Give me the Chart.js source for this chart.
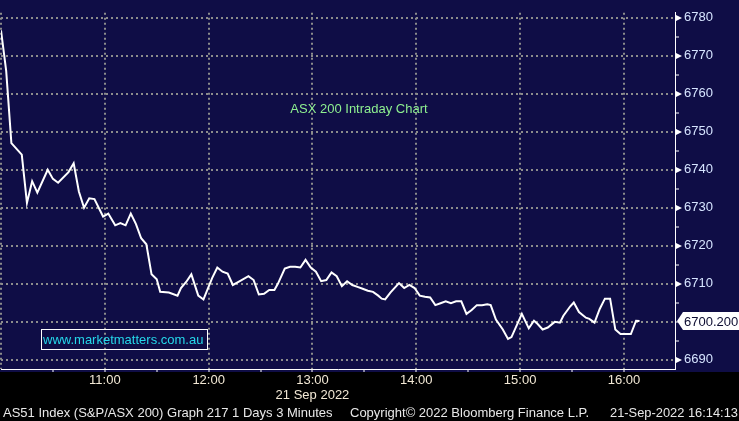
<!DOCTYPE html>
<html>
<head>
<meta charset="utf-8">
<script src="https://cdn.jsdelivr.net/npm/chart.js@4"></script>
<style>
  html, body { margin: 0; padding: 0; background: #000; }
  #wrap { width: 739px; height: 421px; position: relative; }
</style>
</head>
<body>
<div id="wrap"><canvas id="MyChart" width="739" height="421"></canvas></div>
<script>
// minutes after 10:00 and the index level
let minutes = [0, 3, 6, 12, 15, 18, 21, 27, 30, 33, 39, 42, 45, 48, 51, 54, 59, 62, 66, 69,
  72, 75, 78, 81, 84, 87, 90, 92, 97, 102, 104, 107, 110, 114, 117, 122, 125, 128, 131, 134,
  138, 143, 146, 149, 152, 155, 158, 160, 164, 167, 170, 173, 176, 179, 182, 185, 188, 191, 194, 197,
  200, 203, 206, 209, 212, 215, 218, 220, 222, 225, 230, 233, 236, 239, 242, 245, 248, 251, 254, 257,
  260, 263, 266, 269, 272, 275, 278, 281, 283, 286, 290, 293, 295, 301, 305, 308, 310, 313, 316, 320,
  323, 325, 329, 331, 334, 338, 340, 343, 346, 349, 352, 355, 358, 361, 364, 367, 369];
let levels = [6776.7, 6766, 6747, 6744, 6731.3, 6737, 6734, 6740, 6737.6, 6736.6, 6739.4, 6741.7, 6734.3, 6730, 6732.5, 6732.3, 6727.7, 6728.5, 6725.4, 6726,
  6725.4, 6728.5, 6725.7, 6722, 6720.4, 6712.5, 6711.2, 6707.9, 6707.7, 6706.9, 6708.9, 6710.5, 6712.5, 6706.9, 6705.9, 6711.5, 6714.3, 6713.2, 6712.7, 6709.7,
  6710.7, 6712, 6711, 6707.2, 6707.4, 6708.4, 6708.4, 6710, 6714, 6714.5, 6714.5, 6714.3, 6716.3, 6714.3, 6713.2, 6710.7, 6711, 6713, 6712, 6709.4,
  6710.7, 6709.7, 6709.2, 6708.7, 6708.2, 6707.9, 6706.9, 6706.1, 6705.9, 6707.7, 6710.2, 6708.9, 6709.7, 6708.9, 6706.9, 6706.6, 6706.4, 6704.4, 6704.9, 6705.4,
  6704.9, 6705.4, 6705.4, 6702.1, 6703.1, 6704.4, 6704.4, 6704.6, 6704.4, 6700.6, 6698, 6695.5, 6696, 6702.1, 6698.3, 6700.3, 6699.5, 6698, 6698.5, 6700,
  6699.8, 6701.6, 6704.1, 6705.1, 6702.6, 6701.1, 6700.8, 6699.8, 6703.4, 6706.1, 6706.1, 6698, 6696.8, 6696.8, 6696.8, 6700.3, 6700.2];

// x ticks every half hour, labels on the hour
let xTicks = [0, 30, 60, 90, 120, 150, 180, 210, 240, 270, 300, 330, 360];
let hourLabels = ['10:00', '11:00', '12:00', '13:00', '14:00', '15:00', '16:00'];
let yLabels = [6690, 6700, 6710, 6720, 6730, 6740, 6750, 6760, 6770, 6780];
let lastPrice = 6700.2;

let chartTitle = 'ASX 200 Intraday Chart';
let siteText = 'www.marketmatters.com.au';
let dateText = '21 Sep 2022';
let footer = ['AS51 Index (S&P/ASX 200) Graph 217 1 Days 3 Minutes', 'Copyright\u00a9 2022 Bloomberg Finance L.P.', '21-Sep-2022 16:14:13'];

const FONT = "'Liberation Sans', Arial, sans-serif";
const NAVY = 'rgb(15,13,70)';
const GRID = '#8c8c8c';

var points = minutes.map(function (m, i) { return { x: m, y: levels[i] }; });

// background + all the extra Bloomberg text
const bloombergBits = {
  id: 'bloombergBits',
  beforeDraw(chart) {
    const c = chart.ctx;
    c.save();
    c.fillStyle = '#000';
    c.fillRect(0, 0, chart.width, chart.height);
    c.fillStyle = NAVY;
    c.fillRect(0, 0, chart.width, chart.chartArea.bottom + 3);
    c.restore();
  },
  afterDraw(chart) {
    const c = chart.ctx;
    const xs = chart.scales.x, ys = chart.scales.y;
    c.save();

    // title
    c.font = '13px ' + FONT;
    c.fillStyle = '#8ef090';
    c.textAlign = 'center';
    c.textBaseline = 'middle';
    c.fillText(chartTitle, 359, 109);

    // site box
    c.strokeStyle = '#fff';
    c.lineWidth = 1;
    c.strokeRect(41.5, 329.5, 166, 20);
    c.fillStyle = '#25d8ea';
    c.textAlign = 'left';
    c.fillText(siteText, 43, 340, 162);

    // triangles at the labelled y ticks
    c.fillStyle = '#fff';
    yLabels.forEach(function (v) {
      if (v === 6700) return;
      const y = Math.round(ys.getPixelForValue(v));
      c.beginPath();
      c.moveTo(xs.right + 1, y - 3);
      c.lineTo(xs.right + 7, y);
      c.lineTo(xs.right + 1, y + 3);
      c.closePath();
      c.fill();
    });

    // last price tag
    const py = Math.round(ys.getPixelForValue(lastPrice));
    const px = xs.right + 2;
    c.beginPath();
    c.moveTo(px, py);
    c.lineTo(px + 6, py - 9);
    c.lineTo(chart.width, py - 9);
    c.lineTo(chart.width, py + 9);
    c.lineTo(px + 6, py + 9);
    c.closePath();
    c.fillStyle = '#fff';
    c.fill();
    c.fillStyle = '#0b0b30';
    c.font = '13px ' + FONT;
    c.textAlign = 'left';
    c.fillText(lastPrice.toFixed(3), px + 7, py + 1);

    // date under the axis
    c.fillStyle = '#f2e8d5';
    c.textAlign = 'center';
    c.fillText(dateText, xs.getPixelForValue(180), 395);

    // footer line
    c.fillStyle = '#e8e8e8';
    c.textAlign = 'left';
    c.fillText(footer[0], 3, 413, 331);
    c.fillText(footer[1], 350, 413, 241);
    c.fillText(footer[2], 610, 413, 128);
    c.restore();
  }
};

var ctx = document.getElementById('MyChart').getContext('2d');
var chart = new Chart(ctx, {
  type: 'line',
  data: {
    datasets: [{
      data: points,
      borderColor: '#ffffff',
      borderWidth: 2,
      pointRadius: 0,
      tension: 0,
      fill: false
    }]
  },
  options: {
    responsive: false,
    animation: false,
    events: [],
    layout: { padding: 0 },
    plugins: {
      legend: { display: false },
      tooltip: { enabled: false }
    },
    scales: {
      x: {
        type: 'linear',
        min: 0,
        max: 389.5,
        afterBuildTicks: function (scale) {
          scale.ticks = xTicks.map(function (v) { return { value: v }; });
        },
        afterFit: function (scale) { scale.height = 52; },
        border: { display: true, color: '#ffffff', width: 1, dash: [2, 3] },
        grid: {
          lineWidth: 2,
          color: function (c) { return c.tick && c.tick.value % 60 === 0 ? GRID : 'rgba(0,0,0,0)'; },
          tickColor: function (c) { return c.tick && c.tick.value === 0 ? 'rgba(0,0,0,0)' : '#ffffff'; },
          tickLength: 3,
          tickWidth: 1
        },
        ticks: {
          autoSkip: false,
          maxRotation: 0,
          padding: 1,
          color: '#f2e8d5',
          font: { family: FONT, size: 13 },
          callback: function (v) {
            if (v % 60 !== 0 || v === 0) return '';
            return hourLabels[v / 60];
          }
        }
      },
      y: {
        position: 'right',
        min: 6687.6,
        max: 6781.3,
        afterFit: function (scale) { scale.width = 64; },
        border: { display: true, color: '#ffffff', width: 1, dash: [2, 3] },
        grid: {
          lineWidth: 2,
          color: function (c) { return c.tick && Math.round(c.tick.value) % 10 === 0 ? GRID : 'rgba(0,0,0,0)'; },
          tickColor: '#ffffff',
          tickLength: 4,
          tickWidth: 1
        },
        ticks: {
          stepSize: 5,
          includeBounds: false,
          autoSkip: false,
          padding: 5,
          color: '#d6e4ff',
          font: { family: FONT, size: 13 },
          callback: function (v) {
            return yLabels.indexOf(Math.round(v)) >= 0 && Math.round(v) !== 6700 ? String(v) : '';
          }
        }
      }
    }
  },
  plugins: [bloombergBits]
});
</script>
</body>
</html>
